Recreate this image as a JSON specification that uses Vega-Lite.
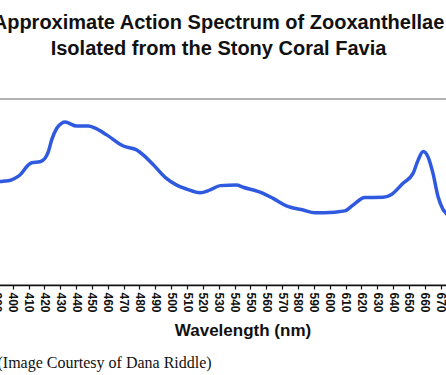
{
  "$schema": "https://vega.github.io/schema/vega-lite/v6.json",
  "autosize": {"type": "none"},
  "width": 523,
  "height": 186,
  "padding": {"left": -19, "top": 99, "right": -58, "bottom": 90},
  "background": "white",
  "config": {
    "view": {"stroke": "#9a9a9a", "strokeWidth": 1.5},
    "font": "Liberation Sans"
  },
  "title": {
    "text": ["Approximate Action Spectrum of Zooxanthellae", "Isolated from the Stony Coral Favia"],
    "font": "Liberation Sans",
    "fontSize": 20,
    "fontWeight": "bold",
    "color": "#111111",
    "anchor": "middle",
    "frame": "group",
    "lineHeight": 26,
    "dx": -24,
    "offset": 40
  },
  "data": {
    "values": [
      {"wavelength": 388, "value": 3.84},
      {"wavelength": 392, "value": 3.89},
      {"wavelength": 395, "value": 3.91},
      {"wavelength": 398, "value": 3.93},
      {"wavelength": 401.4, "value": 4.02},
      {"wavelength": 404.6, "value": 4.14},
      {"wavelength": 409.9, "value": 4.52},
      {"wavelength": 412, "value": 4.6},
      {"wavelength": 417.2, "value": 4.64},
      {"wavelength": 420.4, "value": 4.77},
      {"wavelength": 422.5, "value": 5.02},
      {"wavelength": 424.6, "value": 5.46},
      {"wavelength": 427.8, "value": 5.9},
      {"wavelength": 430.9, "value": 6.09},
      {"wavelength": 433, "value": 6.13},
      {"wavelength": 440.4, "value": 5.98},
      {"wavelength": 447.7, "value": 5.98},
      {"wavelength": 452, "value": 5.9},
      {"wavelength": 459.3, "value": 5.65},
      {"wavelength": 469.8, "value": 5.23},
      {"wavelength": 478.3, "value": 5.08},
      {"wavelength": 482.5, "value": 4.89},
      {"wavelength": 488.8, "value": 4.52},
      {"wavelength": 496.2, "value": 4.05},
      {"wavelength": 503.5, "value": 3.76},
      {"wavelength": 509.8, "value": 3.61},
      {"wavelength": 518.2, "value": 3.47},
      {"wavelength": 524.6, "value": 3.58},
      {"wavelength": 531, "value": 3.74},
      {"wavelength": 541.2, "value": 3.76},
      {"wavelength": 545.4, "value": 3.68},
      {"wavelength": 558, "value": 3.45},
      {"wavelength": 564.3, "value": 3.26},
      {"wavelength": 572.7, "value": 2.98},
      {"wavelength": 583.3, "value": 2.82},
      {"wavelength": 590.6, "value": 2.72},
      {"wavelength": 596.9, "value": 2.72},
      {"wavelength": 609.6, "value": 2.79},
      {"wavelength": 614.8, "value": 3.01},
      {"wavelength": 622.2, "value": 3.29},
      {"wavelength": 633.7, "value": 3.3},
      {"wavelength": 639, "value": 3.41},
      {"wavelength": 646.3, "value": 3.83},
      {"wavelength": 652.6, "value": 4.2},
      {"wavelength": 655.8, "value": 4.7},
      {"wavelength": 659, "value": 5.02},
      {"wavelength": 662, "value": 4.83},
      {"wavelength": 665.2, "value": 4.2},
      {"wavelength": 668.4, "value": 3.32},
      {"wavelength": 671.5, "value": 2.85},
      {"wavelength": 673.4, "value": 2.7},
      {"wavelength": 677, "value": 2.45}
    ]
  },
  "layer": [
    {
      "mark": {"type": "line", "color": "#2f5ae0", "strokeWidth": 3.5, "interpolate": "monotone"},
      "encoding": {
        "x": {
          "field": "wavelength",
          "type": "quantitative",
          "scale": {"domain": [380, 710], "nice": false, "zero": false},
          "axis": {
            "values": [380,390,400,410,420,430,440,450,460,470,480,490,500,510,520,530,540,550,560,570,580,590,600,610,620,630,640,650,660,670,680,690,700,710],
            "grid": false,
            "labelAngle": 90,
            "labelFont": "Liberation Sans",
            "labelFontSize": 12,
            "labelFontWeight": "bold",
            "labelColor": "#111111",
            "labelPadding": 3,
            "labelOverlap": false,
            "labelFlush": false,
            "domainColor": "#111111",
            "domainWidth": 1.5,
            "tickColor": "#111111",
            "tickWidth": 1.2,
            "tickSize": 4,
            "title": "Wavelength (nm)",
            "titleFont": "Liberation Sans",
            "titleFontSize": 17,
            "titleFontWeight": "bold",
            "titleColor": "#111111",
            "titlePadding": 10
          }
        },
        "y": {
          "field": "value",
          "type": "quantitative",
          "scale": {"domain": [0, 7], "nice": false},
          "axis": {"grid": false, "tickCount": 7, "labels": false, "ticks": false, "domain": false, "title": null}
        }
      }
    },
    {
      "mark": {"type": "line", "opacity": 0},
      "encoding": {
        "x": {
          "field": "wavelength",
          "type": "quantitative",
          "axis": {
            "orient": "bottom",
            "labels": false,
            "ticks": false,
            "domain": false,
            "grid": false,
            "title": "(Image Courtesy of Dana Riddle)",
            "titleFont": "Liberation Serif",
            "titleFontSize": 16,
            "titleFontWeight": "normal",
            "titleColor": "#111111",
            "titleAnchor": "start",
            "titleAlign": "left",
            "titleBaseline": "alphabetic",
            "titleX": 16,
            "titleY": 82
          }
        },
        "y": {"field": "value", "type": "quantitative"}
      }
    }
  ],
  "resolve": {"axis": {"x": "independent"}}
}
